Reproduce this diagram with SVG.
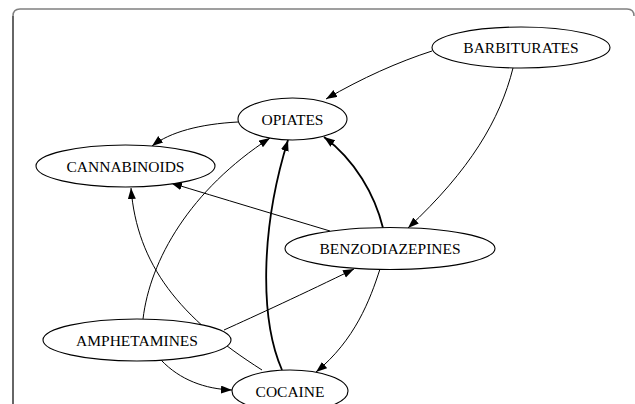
<svg xmlns="http://www.w3.org/2000/svg" width="635" height="404" viewBox="0 0 635 404">
  <style>
    .node ellipse { fill: #ffffff; stroke: #000000; stroke-width: 1.1; }
    .node text { font-family: "Liberation Serif", "Times New Roman", serif; font-size: 15.5px; fill: #000000; text-anchor: middle; }
    .edge { fill: none; stroke: #000000; stroke-width: 1; marker-end: url(#arrow); }
    .edge.heavy { stroke-width: 1.8; }
  </style>
  <defs>
    <marker id="arrow" markerUnits="userSpaceOnUse" markerWidth="12" markerHeight="9" refX="11" refY="4" orient="auto">
      <path d="M0,0 L11,4 L0,8 z" fill="#000000"/>
    </marker>
  </defs>

  <rect width="635" height="404" fill="#ffffff"/>

  <!-- panel frame -->
  <path d="M13,16 Q13,9 20,9 L627,9 Q634,9 634,16" fill="none" stroke="#808080" stroke-width="1.5"/>
  <path d="M13,404 L13,16" fill="none" stroke="#333333" stroke-width="1.5"/>

  <!-- connectors -->
  <g id="edges">
    <path class="edge" d="M432,51 C398,62 362,78 326,99"/>
    <path class="edge" d="M513,68 C500,120 470,170 408,228"/>
    <path class="edge" d="M238,122 C200,124 170,132 152,146"/>
    <path class="edge" d="M330,231 C280,216 220,198 171,183"/>
    <path class="edge heavy" d="M383,228 C375,195 355,160 324,137"/>
    <path class="edge" d="M143,319 C150,260 190,190 270,138"/>
    <path class="edge" d="M262,370 C180,318 137,265 131,188"/>
    <path class="edge heavy" d="M282,370 C260,320 260,230 288,140"/>
    <path class="edge" d="M224,330 C255,316 305,293 354,269"/>
    <path class="edge" d="M161,360 C180,380 205,389 232,390"/>
    <path class="edge" d="M380,269 C370,300 355,340 316,372"/>
  </g>

  <!-- nodes -->
  <g id="barbiturates" class="node">
    <ellipse cx="521" cy="47.5" rx="89" ry="20.5"/>
    <text x="521" y="53" font-family="Liberation Serif, serif">BARBITURATES</text>
  </g>
  <g id="opiates" class="node">
    <ellipse cx="292.5" cy="119" rx="54.5" ry="21"/>
    <text x="292.5" y="124.5" font-family="Liberation Serif, serif">OPIATES</text>
  </g>
  <g id="cannabinoids" class="node">
    <ellipse cx="125.5" cy="166" rx="89.5" ry="21"/>
    <text x="125.5" y="171.5" font-family="Liberation Serif, serif">CANNABINOIDS</text>
  </g>
  <g id="benzodiazepines" class="node">
    <ellipse cx="390" cy="248.5" rx="105" ry="21"/>
    <text x="390" y="254" font-family="Liberation Serif, serif">BENZODIAZEPINES</text>
  </g>
  <g id="amphetamines" class="node">
    <ellipse cx="137" cy="340" rx="94" ry="21"/>
    <text x="137" y="345.5" font-family="Liberation Serif, serif">AMPHETAMINES</text>
  </g>
  <g id="cocaine" class="node">
    <ellipse cx="290" cy="391" rx="58" ry="21"/>
    <text x="290" y="396.5" font-family="Liberation Serif, serif">COCAINE</text>
  </g>
</svg>
